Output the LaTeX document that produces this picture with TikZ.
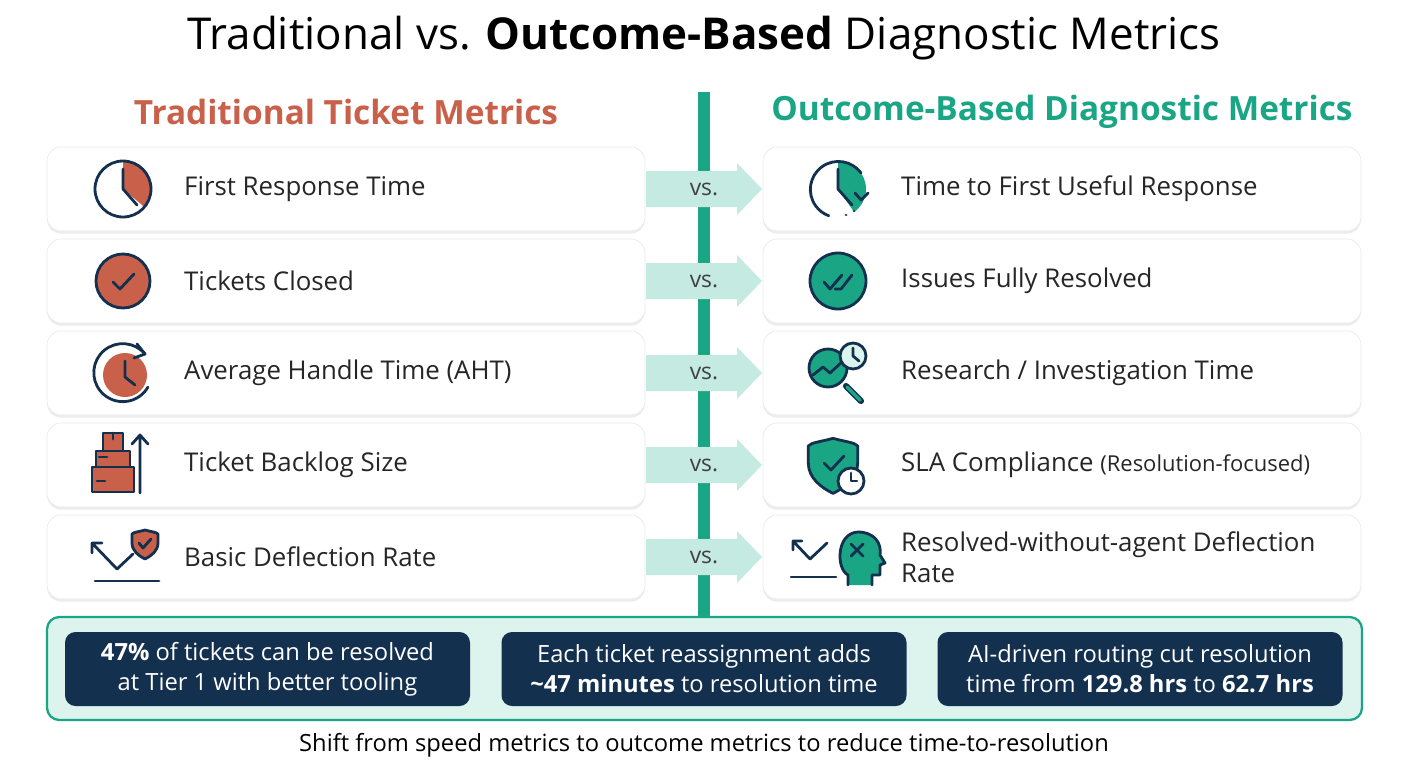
\documentclass[tikz,border=0pt]{standalone}
\usepackage{fontspec}
\setmainfont{Open Sans}
\usetikzlibrary{shadows}
\definecolor{tred}{HTML}{C8604A}
\definecolor{tteal}{HTML}{1AA585}
\definecolor{tnavy}{HTML}{14304F}
\definecolor{tpale}{HTML}{DDF3EE}
\definecolor{tarrow}{HTML}{C4EAE1}
\tikzset{
  card/.style={draw=black!8,fill=white,rounded corners=8pt,minimum width=598*0.02cm,minimum height=84*0.02cm,drop shadow={opacity=0.15,shadow xshift=0pt,shadow yshift=-1.5pt}},
  lbl/.style={anchor=west,font=\fontsize{14.7}{17.5}\selectfont,text=black!85,align=left},
  fact/.style={fill=tnavy,rounded corners=6pt,minimum width=405*0.02cm,minimum height=74*0.02cm,text=white,align=center,font=\fontsize{13.5}{17}\selectfont},
  vslbl/.style={font=\fontsize{13}{15}\selectfont,text=black!75},
  ic/.style={line width=1.6pt,draw=tnavy,line cap=round,line join=round},
}
\newcommand{\shieldpath}[1]{(0,-13*#1) .. controls (7*#1,-11*#1) and (11*#1,-11*#1) .. (13*#1,-9*#1) -- (13*#1,0) .. controls (13*#1,8*#1) and (6*#1,13*#1) .. (0,16*#1) .. controls (-6*#1,13*#1) and (-13*#1,8*#1) .. (-13*#1,0) -- (-13*#1,-9*#1) .. controls (-11*#1,-11*#1) and (-7*#1,-11*#1) .. (0,-13*#1)}
\begin{document}
\begin{tikzpicture}[x=0.02cm,y=-0.02cm]
\useasboundingbox (0,0) rectangle (1408,768);
\node (title) at (704,38) {\fontsize{25}{30}\selectfont Traditional vs. \textbf{Outcome-Based} Diagnostic Metrics};
\node (lhead) at (346,112) {\fontsize{19}{23}\selectfont\bfseries\color{tred}Traditional Ticket Metrics};
\node (rhead) at (1062,112) {\fontsize{19}{23}\selectfont\bfseries\color{tteal}Outcome-Based Diagnostic Metrics};
\coordinate (ltop) at (704,92);
\coordinate (lbot) at (704,617);

% cards
\foreach \i/\y/\ltxt/\rtxt in {1/189/First Response Time/Time to First Useful Response,
  2/281/Tickets Closed/Issues Fully Resolved,
  3/373/Average Handle Time (AHT)/{Research / Investigation Time},
  4/465/Ticket Backlog Size/SLA Compliance {\fontsize{12.5}{15}\selectfont(Resolution-focused)},
  5/557/Basic Deflection Rate/{Resolved-without-agent Deflection\\Rate}}{
  \node[card] (lc\i) at (346,\y) {};
  \node[card] (rc\i) at (1062,\y) {};
  \node[lbl] (lt\i) at (178,\y) {\ltxt};
  \node[lbl] (rt\i) at (895,\y) {\rtxt};
}
\draw[tteal,line width=12*0.02cm] (ltop) -- (lbot);
\foreach \i/\y in {1/189,2/281,3/373,4/465,5/557}{
  \fill[tarrow] (646,\y-18) -- (737,\y-18) -- (737,\y-26) -- (762,\y) -- (737,\y+26) -- (737,\y+18) -- (646,\y+18) -- cycle;
  \node[vslbl] (vs\i) at (704,\y) {vs.};
}

% left icons
\begin{scope}[shift={(123,189)}]
  \fill[tred] (0,0) -- (0,-28) arc (-90:40:28) -- cycle;
  \draw[ic] (0,0) circle (28); \draw[ic] (0,-20) -- (0,0) -- (14,16);
\end{scope}
\begin{scope}[shift={(123,281)}]
  \draw[ic,fill=tred] (0,0) circle (27); \draw[ic] (-10,1) -- (-3,8) -- (11,-7);
\end{scope}
\begin{scope}[shift={(123,373)}]
  \fill[tred] (2,2) circle (22);
  \draw[ic] (22,-19) arc (-40:-330:29); \draw[ic] (14,-29) -- (22,-19) -- (11,-15);
  \draw[ic] (2,-12) -- (2,4) -- (12,12);
\end{scope}
\begin{scope}[shift={(113,465)}]
  \draw[ic,fill=tred] (-21,2) rectangle (21,27);
  \draw[ic,fill=tred] (-17,-14) rectangle (17,2);
  \draw[ic,fill=tred] (-10,-32) rectangle (10,-14);
  \draw[ic] (0,-32) -- (0,-26) (-14,-8) -- (-6,-8) (-16,16) -- (-8,16);
  \draw[ic] (27,28) -- (27,-30) (19,-21) -- (27,-30) -- (35,-21);
\end{scope}
\begin{scope}[shift={(123,557)}]
  \draw[ic] (-28,24) -- (36,24);
  \draw[ic] (-31,-14) -- (-6,12) -- (10,-3) (-31,-14) -- (-31,-4) (-31,-14) -- (-21,-14);
  \begin{scope}[shift={(22,-14)}]
   \draw[ic,fill=tred] \shieldpath{1};
   \draw[ic] (-6,0) -- (-2,5) -- (6,-4);
  \end{scope}
\end{scope}

% right icons
\begin{scope}[shift={(838,189)}]
  \fill[tteal] (0,0) -- (0,-28) arc (-90:55:28) -- cycle;
  \draw[ic] (23,-16) arc (-36:-250:28);
  \draw[ic] (8,26) -- ++(0.1,0) (16,22) -- ++(0.1,0);
  \draw[ic] (0,-20) -- (0,0) -- (14,16);
  \draw[ic] (17,4) -- (23,11) -- (30,4);
\end{scope}
\begin{scope}[shift={(838,281)}]
  \draw[ic,fill=tteal] (0,0) circle (28);
  \draw[ic] (-14,1) -- (-8,8) -- (4,-6) (-3,8) -- (3,8) -- (14,-6);
\end{scope}
\begin{scope}[shift={(833,373)}]
  \draw[ic,line width=3.5pt,draw=tnavy] (13,13) -- (28,28);
  \draw[line width=2pt,tteal,line cap=round] (14,14) -- (27,27);
  \draw[ic,fill=tteal] (-5,-5) circle (19);
  \draw[ic] (-20,2) -- (-10,-6) -- (-3,0) -- (10,-12);
  \draw[ic,fill=tpale] (20,-17) circle (13);
  \draw[ic] (20,-25) -- (20,-17) -- (26,-12);
\end{scope}
\begin{scope}[shift={(833,463)}]
  \draw[ic,fill=tteal] \shieldpath{1.9};
  \draw[ic] (-9,0) -- (-2,7) -- (11,-7);
  \draw[ic,fill=white] (18,18) circle (13);
  \draw[ic] (18,10) -- (18,18) -- (24,18);
\end{scope}
\begin{scope}[shift={(838,557)}]
  \draw[ic] (-47,20) -- (-2,20);
  \draw[ic] (-45,-16) -- (-28,2) -- (-11,-14) (-45,-16) -- (-45,-7) (-45,-16) -- (-36,-16);
  \draw[ic,fill=tteal] (10,28) -- (10,18) .. controls (-2,12) and (-2,-24) .. (20,-25) .. controls (36,-25) and (44,-14) .. (42,-2) -- (47,6) -- (42,8) -- (42,18) -- (34,18) -- (34,28);
  \draw[ic] (13,-13) -- (25,-1) (25,-13) -- (13,-1);
\end{scope}

% bottom panel
\node[draw=tteal,line width=1.3pt,fill=tpale,rounded corners=7pt,minimum width=1315*0.02cm,minimum height=103*0.02cm] (panel) at (704.5,668.5) {};
\node[fact] (f1) at (267.5,669) {\textbf{47\%} of tickets can be resolved\\at Tier 1 with better tooling};
\node[fact] (f2) at (704,669) {Each ticket reassignment adds\\\textbf{\textasciitilde 47 minutes} to resolution time};
\node[fact] (f3) at (1140,669) {AI-driven routing cut resolution\\time from \textbf{129.8 hrs} to \textbf{62.7 hrs}};
\node[font=\fontsize{13.5}{16}\selectfont] (foot) at (704,745) {Shift from speed metrics to outcome metrics to reduce time-to-resolution};
\end{tikzpicture}
\end{document}
